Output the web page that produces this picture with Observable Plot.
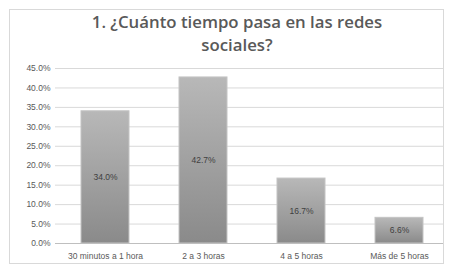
<!DOCTYPE html>
<html>
<head>
<meta charset="utf-8">
<script src="https://cdn.jsdelivr.net/npm/d3@7"></script>
<script src="https://cdn.jsdelivr.net/npm/@observablehq/plot@0.6"></script>
<style>
  html, body { margin: 0; padding: 0; background: #fff; }
  #wrap { position: relative; width: 450px; height: 269px; overflow: hidden; }
  #frame { position: absolute; left: 9px; top: 9px; width: 435px; height: 255px; border: 1px solid #d9d9d9; box-sizing: border-box; }
  #title { position: absolute; left: 12px; top: 10px; width: 450px; text-align: center;
           font-family: "Open Sans", sans-serif; font-weight: 600; font-size: 16.8px; line-height: 23px; color: #595959; }
  #chart { position: absolute; left: 0; top: 60px; }
</style>
</head>
<body>
<div id="wrap">
  <div id="frame"></div>
  <div id="title">1. ¿Cuánto tiempo pasa en las redes<br>sociales?</div>
  <div id="chart"></div>
</div>
<script>
const categories = ["30 minutos a 1 hora", "2 a 3 horas", "4 a 5 horas", "Más de 5 horas"];
const values = [34.0, 42.7, 16.7, 6.6];
const yTicks = [0, 5, 10, 15, 20, 25, 30, 35, 40, 45];

const data = categories.map((c, i) => ({ cat: c, v: values[i] }));
const fmt = d => d.toFixed(1) + "%";

const plot = Plot.plot({
  width: 450,
  height: 209,
  marginLeft: 55,
  marginRight: 0,
  marginTop: 8,
  marginBottom: 26,
  style: { fontFamily: "'Liberation Sans', Arial, sans-serif", fontSize: "8.5px", color: "#595959", background: "transparent" },
  x: { domain: categories, paddingInner: 0.51, paddingOuter: 0.255, label: null },
  y: { domain: [0, 45], label: null },
  marks: [
    Plot.ruleY(yTicks.filter(t => t > 0), { stroke: "#d9d9d9", strokeWidth: 1, insetRight: 7 }),
    Plot.barY(data, { x: "cat", y: "v", fill: "url(#barGrad)", stroke: "#c4c4c4", strokeWidth: 1 }),
    Plot.ruleY([0], { stroke: "#bfbfbf", strokeWidth: 1, insetRight: 7 }),
    Plot.text(data, { x: "cat", y: d => d.v / 2, text: d => fmt(d.v), fill: "#404040", fontSize: 8.5 }),
    Plot.axisY({ ticks: yTicks, tickFormat: fmt, tickSize: 0, tickPadding: 5, fill: "#595959" }),
    Plot.axisX({ tickSize: 0, tickPadding: 9, fill: "#595959" })
  ]
});

const svg = d3.select(plot);
const defs = svg.insert("defs", ":first-child");
const g = defs.append("linearGradient").attr("id", "barGrad").attr("x1", 0).attr("y1", 0).attr("x2", 0).attr("y2", 1);
g.append("stop").attr("offset", "0%").attr("stop-color", "#b8b8b8");
g.append("stop").attr("offset", "100%").attr("stop-color", "#8a8a8a");

document.getElementById("chart").appendChild(plot);
</script>
</body>
</html>
